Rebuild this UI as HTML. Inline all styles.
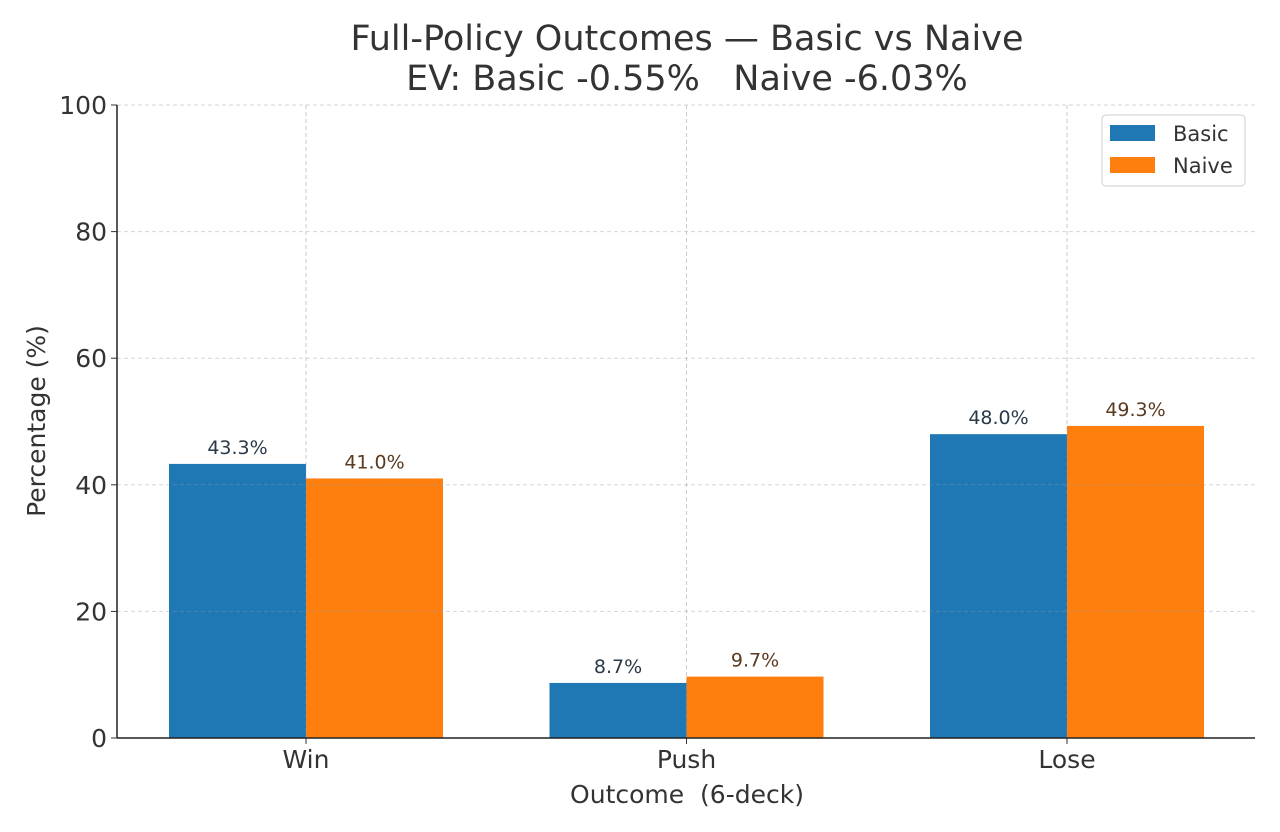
<!DOCTYPE html>
<html><head><meta charset="utf-8"><style>
html,body{margin:0;padding:0;background:#fff;}
svg{display:block;font-family:"DejaVu Sans","Liberation Sans",sans-serif;}
</style></head><body>
<svg id="chart" width="1280" height="832" xmlns="http://www.w3.org/2000/svg">
<text x="687" y="50" text-anchor="middle" font-size="35" fill="#333">Full-Policy Outcomes — Basic vs Naive</text>
<text x="687" y="90" text-anchor="middle" font-size="35" fill="#333" xml:space="preserve" style="white-space:pre">EV: Basic -0.55%   Naive -6.03%</text>
<g id="bars"></g>
<g id="grid"></g>
<g id="axes"></g>
<text x="687" y="803" text-anchor="middle" font-size="25" fill="#333" xml:space="preserve" style="white-space:pre">Outcome  (6-deck)</text>
<text transform="translate(45,421) rotate(-90)" text-anchor="middle" font-size="25" fill="#333">Percentage (%)</text>
<g>
<rect x="1102" y="115" width="143" height="71" rx="4" fill="#fff" fill-opacity="0.85" stroke="#ccc"/>
<rect x="1110" y="125" width="45" height="16" fill="#1f77b4"/>
<text x="1173" y="141" font-size="21" fill="#333">Basic</text>
<rect x="1110" y="157" width="45" height="16" fill="#ff7f0e"/>
<text x="1173" y="173" font-size="21" fill="#333">Naive</text>
</g>
</svg>
<script>
const categories = ["Win","Push","Lose"];
const basicValues = [43.3, 8.7, 48.0];
const naiveValues = [41.0, 9.7, 49.3];
const yTicks = [0,20,40,60,80,100];

const NS="http://www.w3.org/2000/svg";
const L=117,R=1255,T=105,B=738;
function y(v){return B-(v/100)*(B-T);}
function xc(i){return 306+i*380.5;}
const bw=137;
function mk(tag,attrs,parent){const e=document.createElementNS(NS,tag);for(const k in attrs)e.setAttribute(k,attrs[k]);parent.appendChild(e);return e;}
const bars=document.getElementById('bars'),grid=document.getElementById('grid'),axes=document.getElementById('axes');
categories.forEach((c,i)=>{
  [[basicValues,'#1f77b4','basic',-bw,'#2a3a4a'],[naiveValues,'#ff7f0e','naive',0,'#5a3a20']].forEach(([arr,col,nm,off,tc])=>{
    const v=arr[i];
    const r=mk('rect',{x:xc(i)+off,y:y(v),width:bw,height:B-y(v),fill:col},bars);
    
    
    const t=mk('text',{x:xc(i)+off+bw/2,y:y(v)-10,'text-anchor':'middle','font-size':19,fill:tc},bars);
    t.textContent=v.toFixed(1)+'%';
    
    
  });
  const g=mk('line',{x1:xc(i),x2:xc(i),y1:T,y2:B,stroke:'#8a9aaa','stroke-opacity':0.5,'stroke-dasharray':'4,3','stroke-width':1},grid);
  
  
  const tk=mk('line',{x1:xc(i),x2:xc(i),y1:B,y2:B+6,stroke:'#333'},axes);
  
  
  const tl=mk('text',{x:xc(i),y:B+30,'text-anchor':'middle','font-size':25,fill:'#333'},axes);
  tl.textContent=c;
  
  
});
yTicks.forEach(v=>{
  if(v>0){const g=mk('line',{x1:L,x2:R,y1:y(v),y2:y(v),stroke:'#8a9aaa','stroke-opacity':0.4,'stroke-dasharray':'4,3'},grid);
  
  }
  const tk=mk('line',{x1:L-6,x2:L,y1:y(v),y2:y(v),stroke:'#333'},axes);
  
  
  const tl=mk('text',{x:L-10,y:y(v)+9,'text-anchor':'end','font-size':25,fill:'#333'},axes);
  tl.textContent=v;
  
  
});
const ax=mk('line',{x1:L,x2:L,y1:T,y2:B,stroke:'#222','stroke-width':1.5},axes);


const bx=mk('line',{x1:L,x2:R,y1:B,y2:B,stroke:'#222','stroke-width':1.5},axes);


</script>
</body></html>
